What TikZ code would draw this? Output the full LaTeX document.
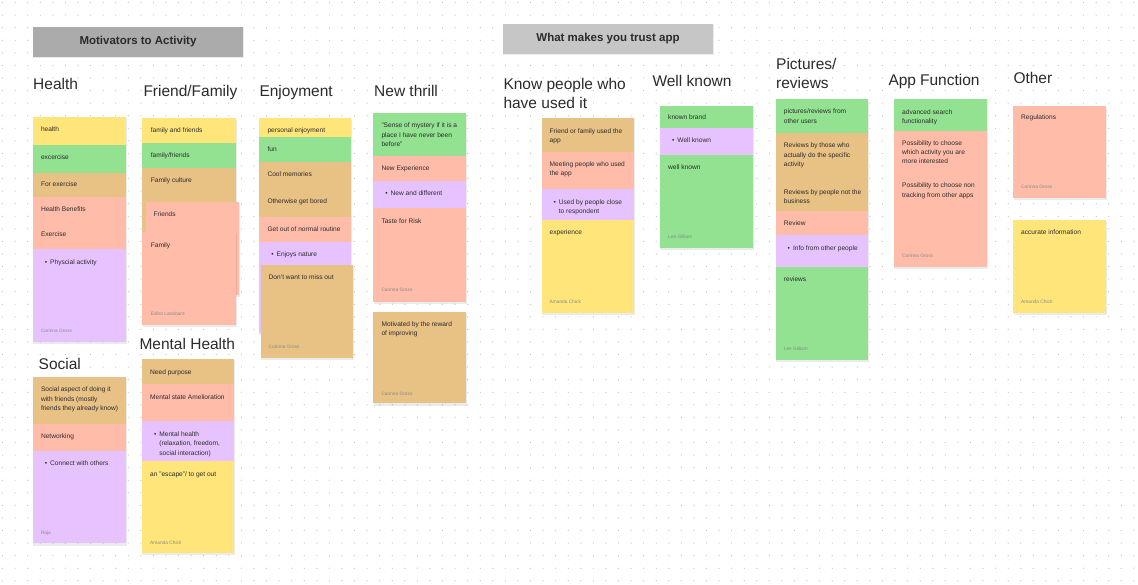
\documentclass[tikz,border=0pt]{standalone}
\usepackage{fontspec}
\setmainfont{Liberation Sans}
\definecolor{nY}{HTML}{FFE57A}
\definecolor{nG}{HTML}{92E292}
\definecolor{nT}{HTML}{E8C185}
\definecolor{nS}{HTML}{FFBCA9}
\definecolor{nL}{HTML}{E6C3FF}
\definecolor{ink}{HTML}{2B2B2B}
\definecolor{auth}{HTML}{8A8A8A}
\definecolor{dotc}{HTML}{BDBDBD}
\definecolor{hdrA}{HTML}{ABABAB}
\definecolor{hdrB}{HTML}{C6C6C6}
\newcounter{tn}
\newcommand\sect[5]{\fill[#5] (#1,#2) rectangle (#3,#4);}
\newcommand\shad[4]{\fill[black,opacity=0.08] (#1+0.2,#2+1) rectangle (#3+0.8,#4+2.2);}
\newcommand\ntext[3]{\stepcounter{tn}\node[txt] (t\arabic{tn}) at (#1,#2+2.3) {#3};}
\newcommand\nbul[3]{\stepcounter{tn}\node[txt] (b\arabic{tn}) at (#1+3.8,#2+2.3) {•};\node[txt] (t\arabic{tn}) at (#1+9.2,#2+2.3) {#3};}
\newcommand\nauth[3]{\stepcounter{tn}\node[authtxt] (a\arabic{tn}) at (#1,#2+1.7) {#3};}
\newcommand\ntitle[3]{\stepcounter{tn}\node[ttl] (h\arabic{tn}) at (#1,#2+5.5) {#3};}
\begin{document}
\begin{tikzpicture}[x=1pt,y=-1pt,
  txt/.style={anchor=base west,inner sep=0pt,font=\fontsize{6.6}{8}\selectfont,text=ink},
  authtxt/.style={anchor=base west,inner sep=0pt,font=\fontsize{4.8}{6}\selectfont,text=auth},
  ttl/.style={anchor=base west,inner sep=0pt,font=\fontsize{15.5}{18}\selectfont,text=ink},
  hdr/.style={inner sep=0pt,font=\fontsize{11.5}{13}\selectfont\bfseries,text=ink}]
\fill[white] (0,0) rectangle (1138,585);
\useasboundingbox (0,0) rectangle (1138,585);
\foreach \i in {0,...,90}{\foreach \j in {0,...,46}{\fill[dotc] (2.56+12.57*\i,2.57+12.57*\j) circle (0.6pt);}}

% headers
\fill[black,opacity=0.08] (33.3,28) rectangle (243.8,58.2);
\fill[hdrA] (33,27) rectangle (243,57);
\node[hdr] (hdr1) at (138,42) {Motivators to Activity};
\fill[black,opacity=0.08] (503.3,25) rectangle (713.8,55.2);
\fill[hdrB] (503,24) rectangle (713,54);
\node[hdr] (hdr2) at (608,39) {What makes you trust app};

% ---------- Health ----------
\ntitle{33}{84}{Health}
\shad{32.5}{116.7}{126}{342.3}
\sect{32.5}{116.7}{126}{145}{nY}
\sect{32.5}{145}{126}{172.7}{nG}
\sect{32.5}{172.7}{126}{196.7}{nT}
\sect{32.5}{196.7}{126}{249.3}{nS}
\sect{32.5}{249.3}{126}{342.3}{nL}
\ntext{40.8}{129}{health}
\ntext{40.8}{157.3}{excercise}
\ntext{40.8}{184.7}{For exercise}
\ntext{40.8}{209.3}{Health Benefits}
\ntext{40.8}{234.3}{Exercise}
\nbul{40.8}{262.3}{Physcial activity}
\nauth{40.8}{331}{Carinna Gross}

% ---------- Social ----------
\ntitle{38.5}{364}{Social}
\shad{33}{376.7}{126}{543.3}
\sect{33}{376.7}{126}{424}{nT}
\sect{33}{424}{126}{450.7}{nS}
\sect{33}{450.7}{126}{543.3}{nL}
\ntext{40.8}{389.3}{Social aspect of doing it}
\ntext{40.8}{398.7}{with friends (mostly}
\ntext{40.8}{408}{friends they already know)}
\ntext{40.8}{436}{Networking}
\nbul{40.8}{463.3}{Connect with others}
\nauth{40.8}{532.7}{Raja}

% ---------- Friend/Family ----------
\ntitle{143.3}{90.7}{Friend/Family}
\shad{142.3}{118.3}{236}{231.7}
\sect{142.3}{118.3}{236}{143}{nY}
\sect{142.3}{143}{236}{167.7}{nG}
\sect{142.3}{167.7}{236}{231.7}{nT}
\ntext{150.6}{130.7}{family and friends}
\ntext{150.6}{155.3}{family/friends}
\ntext{150.6}{180.3}{Family culture}
\shad{145.7}{201.7}{239}{295}
\sect{145.7}{201.7}{239}{295}{nS}
\ntext{153.5}{214.3}{Friends}
\shad{142.3}{231.7}{236}{325}
\sect{142.3}{231.7}{236}{325}{nS}
\ntext{150.6}{245.3}{Family}
\nauth{150.6}{314.3}{Edino Landoare}

% ---------- Mental Health ----------
\ntitle{139.3}{344}{Mental Health}
\shad{141.7}{359.3}{234.3}{552.7}
\sect{141.7}{359.3}{234.3}{384.3}{nT}
\sect{141.7}{384.3}{234.3}{421}{nS}
\sect{141.7}{421}{234.3}{461}{nL}
\sect{141.7}{461}{234.3}{552.7}{nY}
\ntext{150}{372}{Need purpose}
\ntext{150}{396.7}{Mental state Amelioration}
\nbul{150}{433.7}{Mental health}
\ntext{159.2}{443.3}{(relaxation, freedom,}
\ntext{159.2}{452.7}{social interaction)}
\ntext{150}{474}{an "escape"/ to get out}
\nauth{150}{542.3}{Amanda Chick}

% ---------- Enjoyment ----------
\ntitle{259.3}{90.7}{Enjoyment}
\shad{259}{118.3}{351}{333.3}
\sect{259}{118.3}{351}{136.7}{nY}
\sect{259}{136.7}{351}{161.7}{nG}
\sect{259}{161.7}{351}{216.7}{nT}
\sect{259}{216.7}{351}{241.7}{nS}
\sect{259}{241.7}{351}{333.3}{nL}
\ntext{267.3}{130.7}{personal enjoyment}
\ntext{267.3}{149}{fun}
\ntext{267.3}{174}{Cool memories}
\ntext{267.3}{201.7}{Otherwise get bored}
\ntext{267.3}{229.3}{Get out of normal routine}
\nbul{267.3}{254}{Enjoys nature}
\shad{260.7}{265}{352.7}{357.7}
\sect{260.7}{265}{352.7}{357.7}{nT}
\ntext{268.5}{277.7}{Don't want to miss out}
\nauth{268.5}{346.7}{Corinna Gross}

% ---------- New thrill ----------
\ntitle{374}{90.7}{New thrill}
\shad{373.3}{112.7}{466}{301.7}
\sect{373.3}{112.7}{466}{156}{nG}
\sect{373.3}{156}{466}{180.7}{nS}
\sect{373.3}{180.7}{466}{208.3}{nL}
\sect{373.3}{208.3}{466}{301.7}{nS}
\ntext{381.3}{125.7}{"Sense of mystery if it is a}
\ntext{381.3}{135}{place I have never been}
\ntext{381.3}{144}{before"}
\ntext{381.3}{168.3}{New Experience}
\nbul{381.3}{193.3}{New and different}
\ntext{381.3}{221}{Taste for Risk}
\nauth{381.3}{290}{Carinna Gross}
\shad{373.3}{311.7}{466}{403.3}
\sect{373.3}{311.7}{466}{403.3}{nT}
\ntext{381.3}{324.3}{Motivated by the reward}
\ntext{381.3}{333.3}{of improving}
\nauth{381.3}{393.3}{Carinna Gross}

% ---------- Know people ----------
\ntitle{503.3}{84}{Know people who}
\ntitle{503.3}{102.7}{have used it}
\shad{541.7}{118.3}{634.3}{312.7}
\sect{541.7}{118.3}{634.3}{151.7}{nT}
\sect{541.7}{151.7}{634.3}{189.3}{nS}
\sect{541.7}{189.3}{634.3}{220}{nL}
\sect{541.7}{220}{634.3}{312.7}{nY}
\ntext{549.5}{131}{Friend or family used the}
\ntext{549.5}{140}{app}
\ntext{549.5}{164}{Meeting people who used}
\ntext{549.5}{173.3}{the app}
\nbul{549.5}{202.3}{Used by people close}
\ntext{558.7}{211.3}{to respondent}
\ntext{549.5}{232.7}{experience}
\nauth{549.5}{301.7}{Amanda Chick}

% ---------- Well known ----------
\ntitle{652.3}{80.7}{Well known}
\shad{660}{105.7}{753.3}{247.7}
\sect{660}{105.7}{753.3}{127.7}{nG}
\sect{660}{127.7}{753.3}{155}{nL}
\sect{660}{155}{753.3}{247.7}{nG}
\ntext{668}{117.7}{known brand}
\nbul{668}{140}{Well known}
\ntext{668}{167.3}{well known}
\nauth{668}{237.3}{Lee Gilliam}

% ---------- Pictures/reviews ----------
\ntitle{776}{64}{Pictures/}
\ntitle{776}{83.3}{reviews}
\shad{775.7}{99.3}{868.3}{360}
\sect{775.7}{99.3}{868.3}{133.3}{nG}
\sect{775.7}{133.3}{868.3}{211}{nT}
\sect{775.7}{211}{868.3}{235.3}{nS}
\sect{775.7}{235.3}{868.3}{266.7}{nL}
\sect{775.7}{266.7}{868.3}{360}{nG}
\ntext{783.7}{111.7}{pictures/reviews from}
\ntext{783.7}{121}{other users}
\ntext{783.7}{145.7}{Reviews by those who}
\ntext{783.7}{155}{actually do the specific}
\ntext{783.7}{164.3}{activity}
\ntext{783.7}{192.3}{Reviews by people not the}
\ntext{783.7}{201.7}{business}
\ntext{783.7}{223.3}{Review}
\nbul{783.7}{248}{Info from other people}
\ntext{783.7}{279.3}{reviews}
\nauth{783.7}{348.3}{Lee Gilliam}

% ---------- App Function ----------
\ntitle{888.3}{80}{App\hspace{4pt}Function}
\shad{894}{99.3}{987.3}{266.7}
\sect{894}{99.3}{987.3}{130.7}{nG}
\sect{894}{130.7}{987.3}{266.7}{nS}
\ntext{902}{112.3}{advanced search}
\ntext{902}{121.7}{functionality}
\ntext{902}{143.3}{Possibility to choose}
\ntext{902}{152.7}{which activity you are}
\ntext{902}{161.7}{more interested}
\ntext{902}{185.7}{Possibility to choose non}
\ntext{902}{195}{tracking from other apps}
\nauth{902}{256}{Corinna Gross}

% ---------- Other ----------
\ntitle{1013.3}{77.7}{Other}
\shad{1013.3}{105.7}{1106}{197.7}
\sect{1013.3}{105.7}{1106}{197.7}{nS}
\ntext{1021}{117.7}{Regulations}
\nauth{1021}{187.3}{Corinna Gross}
\shad{1013.3}{220}{1106}{313.3}
\sect{1013.3}{220}{1106}{313.3}{nY}
\ntext{1021}{232.3}{accurate information}
\nauth{1021}{301.7}{Amanda Chick}
\end{tikzpicture}
\end{document}
